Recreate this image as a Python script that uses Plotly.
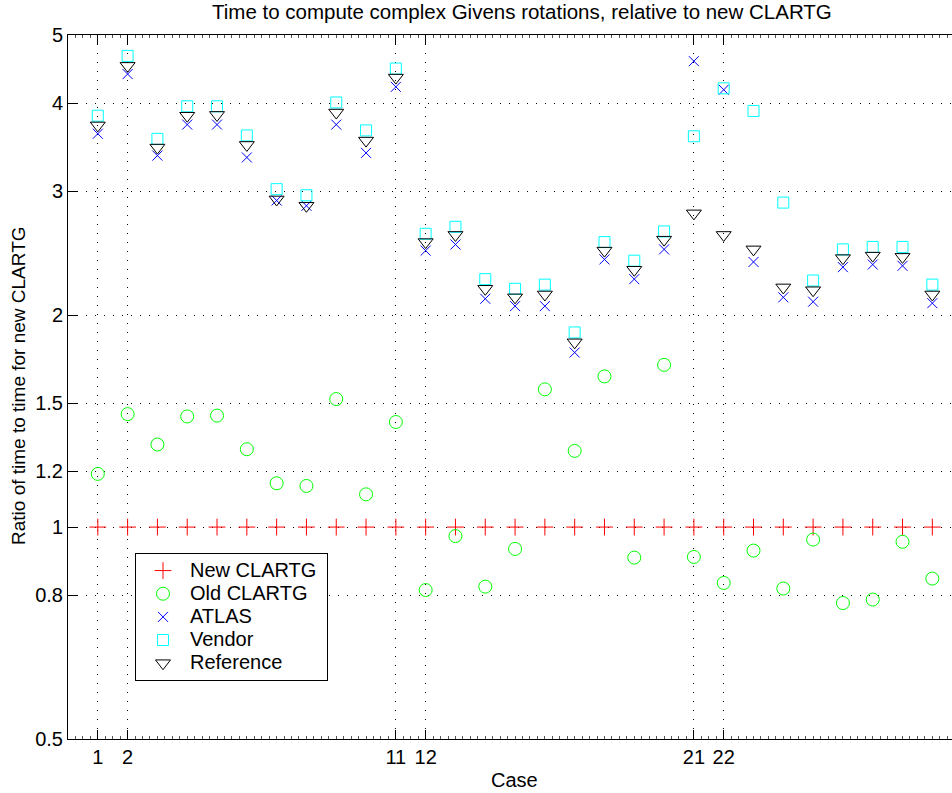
import plotly.graph_objects as go

cases = list(range(1, 30))
new_clartg = [1.0, 1.0, 1.0, 1.0, 1.0, 1.0, 1.0, 1.0, 1.0, 1.0, 1.0, 1.0, 1.0, 1.0, 1.0,
              1.0, 1.0, 1.0, 1.0, 1.0, 1.0, 1.0, 1.0, 1.0, 1.0, 1.0, 1.0, 1.0, 1.0]
old_clartg = [1.19, 1.447, 1.31, 1.436, 1.44, 1.29, 1.154, 1.144, 1.52, 1.113, 1.41,
              0.814, 0.971, 0.823, 0.931, 1.569, 1.283, 1.637, 0.905, 1.70, 0.907,
              0.833, 0.926, 0.818, 0.96, 0.78, 0.789, 0.953, 0.845]
atlas = [3.62, 4.40, 3.37, 3.73, 3.73, 3.35, 2.91, 2.86, 3.73, 3.40, 4.22, 2.47, 2.52,
         2.11, 2.06, 2.06, 1.77, 2.40, 2.25, 2.48, 4.59, 4.18, 2.38, 2.12, 2.09, 2.34,
         2.36, 2.35, 2.08]
vendor = [3.84, 4.67, 3.56, 3.96, 3.96, 3.60, 3.02, 2.96, 4.01, 3.66, 4.48, 2.61, 2.67,
          2.25, 2.18, 2.21, 1.89, 2.54, 2.39, 2.63, 3.59, 4.20, 3.90, 2.89, 2.24, 2.48,
          2.50, 2.50, 2.21]
reference = [3.72, 4.52, 3.46, 3.84, 3.85, 3.49, 2.92, 2.86, 3.88, 3.54, 4.35, 2.54, 2.60,
             2.18, 2.12, 2.14, 1.83, 2.47, 2.32, 2.56, 2.79, 2.60, 2.48, 2.19, 2.17, 2.41,
             2.43, 2.42, 2.14]
series_names = ["New CLARTG", "Old CLARTG", "ATLAS", "Vendor", "Reference"]

x_ticks = [1, 2, 11, 12, 21, 22]
y_ticks = [0.5, 0.8, 1, 1.2, 1.5, 2, 3, 4, 5]
y_tick_text = ["0.5", "0.8", "1", "1.2", "1.5", "2", "3", "4", "5"]

FONT = "Liberation Sans, Arial, Helvetica, sans-serif"
FS = 20

fig = go.Figure()
styles = [
    ("cross-thin", "#ff0000", 12),
    ("circle-open", "#00ff00", 13),
    ("x-thin", "#0000ff", 10),
    ("square-open", "#00ffff", 11),
    ("triangle-down-open", "#000000", 13),
]
all_vals = [new_clartg, old_clartg, atlas, vendor, reference]
for name, vals, (sym, col, sz) in zip(series_names, all_vals, styles):
    label = name + ("\u00a0" if name == "New CLARTG" else "")
    fig.add_trace(go.Scatter(
        x=cases, y=vals, mode="markers",
        name='<span style="font-size:20px">' + label + "</span>",
        marker=dict(symbol=sym, size=sz, color=col, line=dict(color=col, width=1)),
    ))
fig.add_trace(go.Scatter(x=[None], y=[None], xaxis="x2", showlegend=False, hoverinfo="skip"))

xr = [0, 29.66]
common_x = dict(range=xr, tickvals=x_ticks, ticks="inside", ticklen=9, tickcolor="black",
                tickwidth=1, showline=True, linecolor="black", linewidth=1, zeroline=False,
                minor=dict(ticks="inside", ticklen=3, dtick=0.25, tickcolor="#555555",
                           showgrid=False))
fig.update_layout(
    width=952, height=793,
    margin=dict(l=68, r=0, t=35, b=54),
    paper_bgcolor="white", plot_bgcolor="white",
    font=dict(family=FONT, size=FS, color="black"),
    showlegend=True,
    xaxis=dict(**common_x, showgrid=True, gridcolor="black", griddash="1px,8px", gridwidth=1,
               tickfont=dict(size=FS)),
    xaxis2=dict(**common_x, overlaying="x", side="top", showticklabels=False, showgrid=False),
    yaxis=dict(type="log", range=[-0.30103, 0.69897], tickvals=y_ticks, ticktext=y_tick_text,
               ticks="inside", ticklen=9, tickcolor="black", showline=True, linecolor="black",
               linewidth=1, showgrid=True, gridcolor="black", griddash="1px,8px", gridwidth=1,
               zeroline=False, tickfont=dict(size=FS)),
    legend=dict(x=(135 - 68) / 884, y=(739 - 553) / 704, xanchor="left", yanchor="top",
                bgcolor="white", bordercolor="black", borderwidth=1,
                font=dict(size=15.5), tracegroupgap=0, itemwidth=44),
    annotations=[
        dict(text="Time to compute complex Givens rotations, relative to new CLARTG",
             xref="paper", yref="paper", x=(522 - 68) / 884, y=1 + (35 - 12) / 704,
             xanchor="center", yanchor="middle", showarrow=False, font=dict(size=20.5)),
        dict(text="Ratio of time to time for new CLARTG", xref="paper", yref="paper",
             x=(18 - 68) / 884, y=(739 - 386) / 704, xanchor="center", yanchor="middle",
             textangle=-90, showarrow=False, font=dict(size=19)),
        dict(text="Case", xref="paper", yref="paper", x=(514 - 68) / 884,
             y=-(780 - 739) / 704, xanchor="center", yanchor="middle",
             showarrow=False, font=dict(size=FS)),
    ],
)
fig.write_html("out.html", config={"displayModeBar": False},
               post_script="document.body.style.margin='0';document.body.style.overflow='hidden';")
